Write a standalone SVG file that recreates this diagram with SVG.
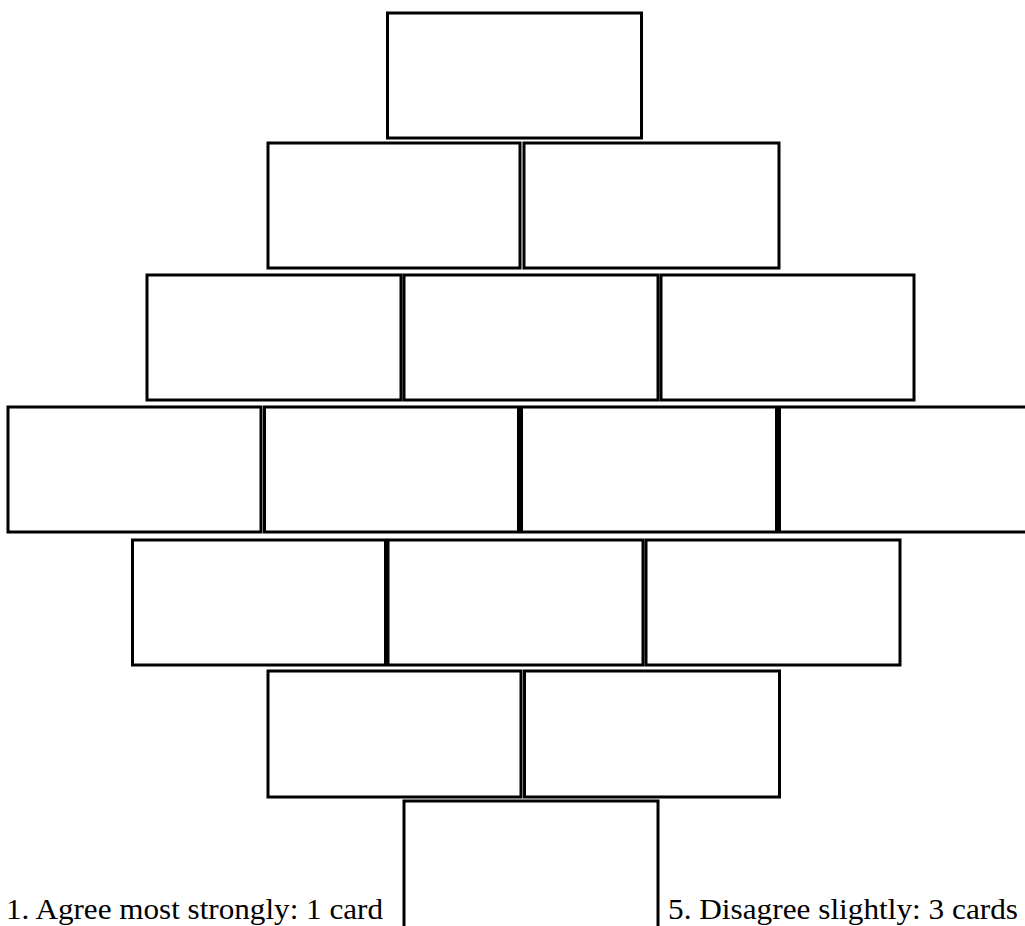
<svg xmlns="http://www.w3.org/2000/svg" width="1025" height="926" viewBox="0 0 1025 926">
<style>
.card{fill:#ffffff;stroke:#000000;stroke-width:3}
.lbl{font-family:"Liberation Serif","Times New Roman",serif;font-size:30px;fill:#000000}
</style>
<rect width="1025" height="926" fill="#ffffff"/>
<g id="row1">
<g id="card-1-1"><rect class="card" x="387.5" y="13" width="254" height="125"/></g>
</g>
<g id="row2">
<g id="card-2-1"><rect class="card" x="268" y="143" width="252" height="125"/></g>
<g id="card-2-2"><rect class="card" x="524" y="143" width="255" height="125"/></g>
</g>
<g id="row3">
<g id="card-3-1"><rect class="card" x="147" y="275" width="254" height="125"/></g>
<g id="card-3-2"><rect class="card" x="404" y="275" width="254" height="125"/></g>
<g id="card-3-3"><rect class="card" x="661" y="275" width="253" height="125"/></g>
</g>
<g id="row4">
<g id="card-4-1"><rect class="card" x="8" y="407" width="253" height="125"/></g>
<g id="card-4-2"><rect class="card" x="264.5" y="407" width="254" height="125"/></g>
<g id="card-4-3"><rect class="card" x="521.5" y="407" width="255" height="125"/></g>
<g id="card-4-4"><rect class="card" x="779.5" y="407" width="255" height="125"/></g>
</g>
<g id="row5">
<g id="card-5-1"><rect class="card" x="132.5" y="540" width="253" height="125"/></g>
<g id="card-5-2"><rect class="card" x="388" y="540" width="255" height="125"/></g>
<g id="card-5-3"><rect class="card" x="646" y="540" width="254" height="125"/></g>
</g>
<g id="row6">
<g id="card-6-1"><rect class="card" x="268" y="671" width="253" height="126"/></g>
<g id="card-6-2"><rect class="card" x="524.5" y="671" width="255" height="126"/></g>
</g>
<g id="row7">
<g id="card-7-1"><rect class="card" x="404" y="801" width="254" height="140"/></g>
</g>
<g id="connectors"></g>
<g id="labels">
<text class="lbl" x="6" y="919" textLength="377" lengthAdjust="spacingAndGlyphs">1. Agree most strongly: 1 card</text>
<text class="lbl" x="668" y="919" textLength="350" lengthAdjust="spacingAndGlyphs">5. Disagree slightly: 3 cards</text>
</g>
</svg>
